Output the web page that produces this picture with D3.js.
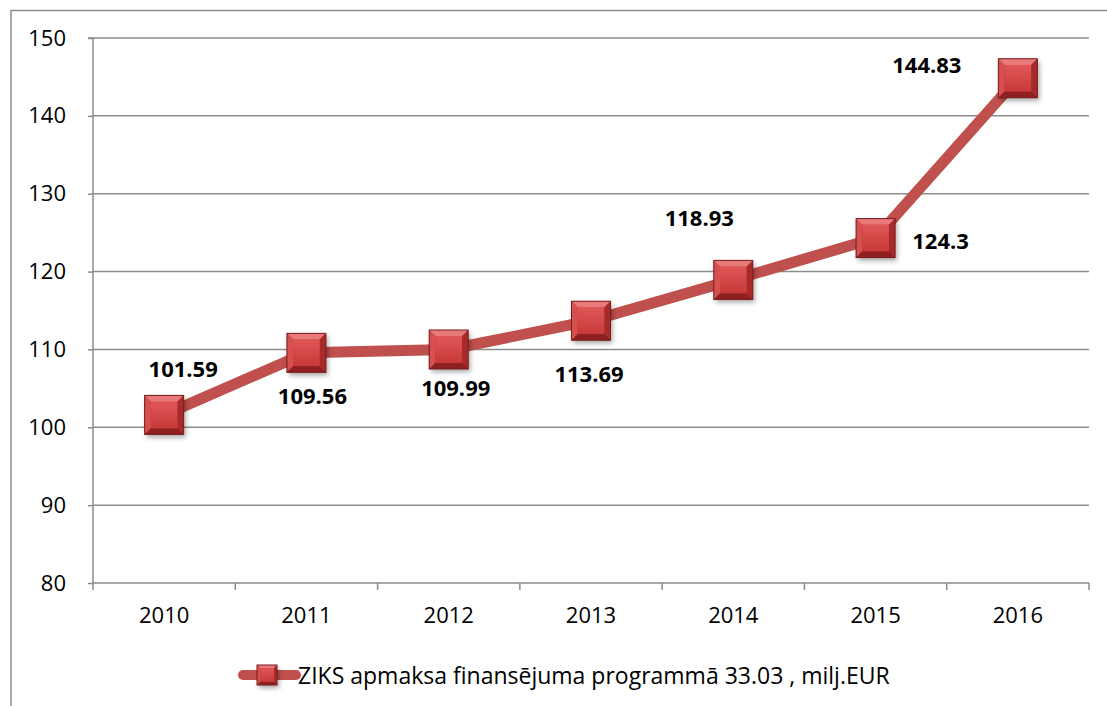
<!DOCTYPE html>
<html>
<head>
<meta charset="utf-8">
<script src="https://cdn.jsdelivr.net/npm/d3@7"></script>
<style>
  body { margin: 0; background: #fff; }
  text { font-family: "Open Sans", sans-serif; fill: #000; }
</style>
</head>
<body>
<div id="chart"></div>
<script>
// data
const years = ['2010', '2011', '2012', '2013', '2014', '2015', '2016'];
const values = [101.59, 109.56, 109.99, 113.69, 118.93, 124.3, 144.83];
const valueLabels = ['101.59', '109.56', '109.99', '113.69', '118.93', '124.3', '144.83'];
const yTicks = [80, 90, 100, 110, 120, 130, 140, 150];
const seriesName = 'ZIKS apmaksa finansējuma programmā 33.03 , milj.EUR';
// manual label offsets (layout, px from point)
const labelOffsets = [[19, -47], [6, 42], [7, 37], [-2, 52], [-34, -63], [65, 2], [-91, -14]];

const W = 1107, H = 706;
const margin = {left: 93, right: 18, top: 38, bottom: 123};
const width = W - margin.left - margin.right;
const height = H - margin.top - margin.bottom;
const fontFam = '"Open Sans", sans-serif';

const svg = d3.select('#chart').append('svg')
  .attr('width', W).attr('height', H);

const defs = svg.append('defs');
const face = defs.append('linearGradient').attr('id', 'face')
  .attr('x1', 0).attr('y1', 0).attr('x2', 0).attr('y2', 1);
face.append('stop').attr('offset', '0%').attr('stop-color', '#e05656');
face.append('stop').attr('offset', '100%').attr('stop-color', '#c83a3a');
const shadow = defs.append('filter').attr('id', 'shadow')
  .attr('x', '-30%').attr('y', '-30%').attr('width', '170%').attr('height', '170%');
shadow.append('feDropShadow').attr('dx', 2).attr('dy', 3).attr('stdDeviation', 2.5)
  .attr('flood-color', '#000').attr('flood-opacity', 0.35);

// outer frame
svg.append('path')
  .attr('d', `M11,${H} L11,10.5 L${W},10.5`)
  .attr('fill', 'none').attr('stroke', '#8c8c8c').attr('stroke-width', 1.5);

const g = svg.append('g').attr('transform', `translate(${margin.left},${margin.top})`);

const x = d3.scaleBand().domain(years).range([0, width]);
const y = d3.scaleLinear().domain([80, 150]).range([height, 0]);

// gridlines
g.append('g').selectAll('line').data(yTicks.slice(1)).join('line')
  .attr('x1', 0).attr('x2', width)
  .attr('y1', d => y(d)).attr('y2', d => y(d))
  .attr('stroke', '#8c8c8c').attr('stroke-width', 1.5);

// y axis
const yAxisG = g.append('g')
  .call(d3.axisLeft(y).tickValues(yTicks).tickSize(5).tickPadding(22));
yAxisG.select('.domain').attr('stroke', '#8c8c8c').attr('stroke-width', 1.5)
  .attr('d', `M-5,0H0V${height}`);
yAxisG.selectAll('.tick line').attr('stroke', '#8c8c8c').attr('stroke-width', 1.5);
yAxisG.selectAll('.tick text').attr('font-size', 22).style('font-family', fontFam);

// x axis
const xAxisG = g.append('g').attr('transform', `translate(0,${height})`)
  .call(d3.axisBottom(x).tickSize(0).tickPadding(24));
xAxisG.select('.domain').attr('stroke', '#8c8c8c').attr('stroke-width', 1.5)
  .attr('d', `M0,0H${width}`);
xAxisG.selectAll('.tick text').attr('font-size', 22).style('font-family', fontFam);
// category boundary ticks
xAxisG.append('g').selectAll('line').data(d3.range(years.length + 1)).join('line')
  .attr('x1', i => i * x.bandwidth()).attr('x2', i => i * x.bandwidth())
  .attr('y1', 0).attr('y2', 7)
  .attr('stroke', '#8c8c8c').attr('stroke-width', 1.5);

const cx = d => x(d) + x.bandwidth() / 2;

// line
g.append('path')
  .datum(years.map((yr, i) => [cx(yr), y(values[i])]))
  .attr('fill', 'none').attr('stroke', '#c0504d').attr('stroke-width', 11)
  .attr('stroke-linejoin', 'round').attr('stroke-linecap', 'round')
  .attr('d', d3.line());

function drawMarker(sel, s) {
  const h = s / 2, b = s * 0.16;
  sel.append('rect').attr('x', -h).attr('y', -h).attr('width', s).attr('height', s)
    .attr('fill', '#b83232').attr('filter', 'url(#shadow)');
  // bevels
  sel.append('polygon').attr('points', `${-h},${-h} ${h},${-h} ${h - b},${-h + b} ${-h + b},${-h + b}`).attr('fill', '#e87a7a');
  sel.append('polygon').attr('points', `${-h},${-h} ${-h + b},${-h + b} ${-h + b},${h - b} ${-h},${h}`).attr('fill', '#d65050');
  sel.append('polygon').attr('points', `${h},${-h} ${h},${h} ${h - b},${h - b} ${h - b},${-h + b}`).attr('fill', '#a82a2a');
  sel.append('polygon').attr('points', `${-h},${h} ${-h + b},${h - b} ${h - b},${h - b} ${h},${h}`).attr('fill', '#8e2020');
  sel.append('rect').attr('x', -h + b).attr('y', -h + b).attr('width', s - 2 * b).attr('height', s - 2 * b)
    .attr('fill', 'url(#face)');
  sel.append('rect').attr('x', -h).attr('y', -h).attr('width', s).attr('height', s)
    .attr('fill', 'none').attr('stroke', '#7a1c1c').attr('stroke-width', 1);
}

// markers
g.append('g').selectAll('g').data(years).join('g')
  .attr('transform', (d, i) => `translate(${cx(d)},${y(values[i])})`)
  .each(function () { drawMarker(d3.select(this), 39); });

// value labels
g.append('g').selectAll('text').data(years).join('text')
  .attr('x', (d, i) => cx(d) + labelOffsets[i][0])
  .attr('y', (d, i) => y(values[i]) + labelOffsets[i][1])
  .attr('text-anchor', 'middle').attr('dominant-baseline', 'central')
  .attr('font-size', 22).attr('font-weight', 'bold')
  .text((d, i) => valueLabels[i]);

// legend
const lg = svg.append('g').attr('transform', 'translate(240,675)');
lg.append('line').attr('x1', 3).attr('x2', 56).attr('y1', 0).attr('y2', 0)
  .attr('stroke', '#c0504d').attr('stroke-width', 10).attr('stroke-linecap', 'round');
const lm = lg.append('g').attr('transform', 'translate(27,0)');
drawMarker(lm, 20);
lg.append('text').attr('x', 58).attr('y', 0).attr('dominant-baseline', 'central')
  .attr('font-size', 23).text(seriesName);
</script>
</body>
</html>
